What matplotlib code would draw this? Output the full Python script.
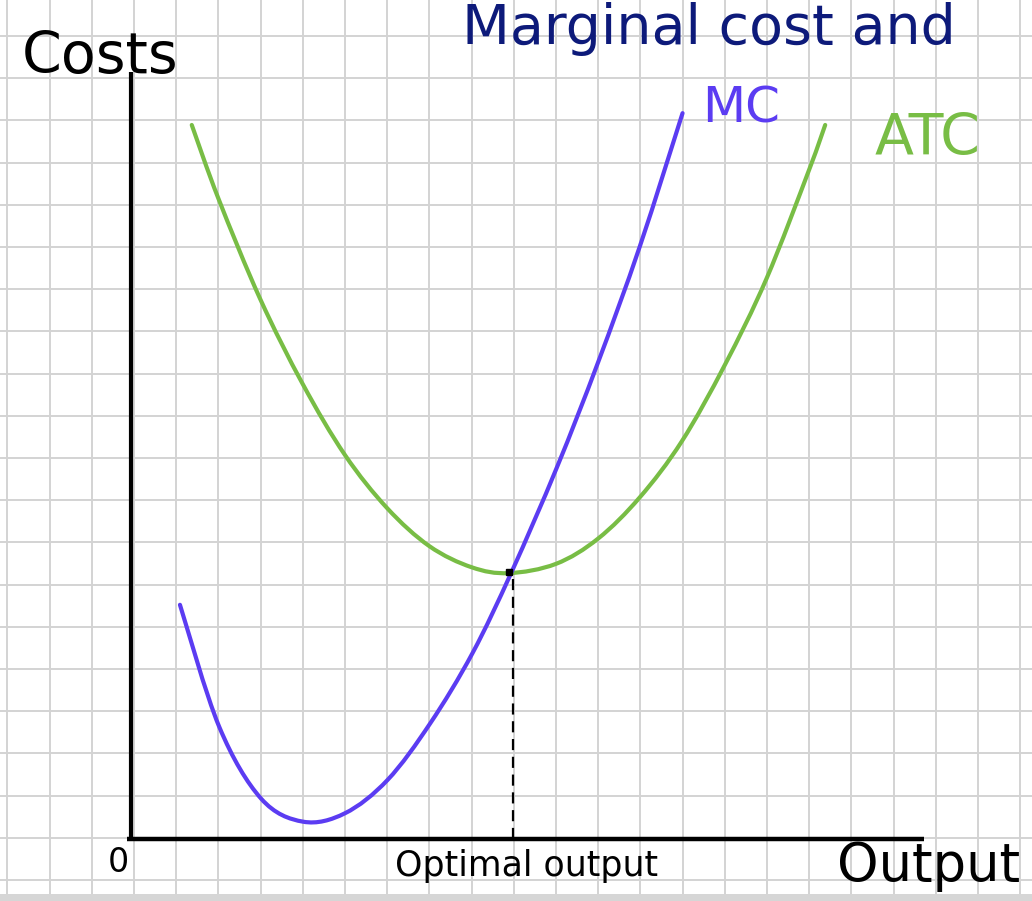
import numpy as np
import matplotlib
matplotlib.use("Agg")
import matplotlib.pyplot as plt
from matplotlib.path import Path
from matplotlib.patches import PathPatch

# one unit = one grid square, origin at the axes corner
atc_x = [1.44, 2.07, 3.06, 4.07, 5.07, 6.07, 7.07, 8.07, 8.95, 10.07, 11.07, 12.06, 13.05, 14.07, 15.06, 16.07, 16.45]
atc_y = [16.92, 15.18, 12.80, 10.78, 9.10, 7.84, 6.94, 6.44, 6.30, 6.52, 7.12, 8.10, 9.42, 11.23, 13.28, 15.86, 16.92]

mc_x = [1.16, 2.09, 3.08, 4.08, 5.07, 6.08, 7.09, 8.09, 9.02, 10.09, 11.07, 12.06, 13.07]
mc_y = [5.55, 2.66, 0.96, 0.41, 0.61, 1.40, 2.74, 4.40, 6.33, 8.80, 11.30, 14.05, 17.20]

opt_q = 9.05
opt_cost = 6.30

title = "Marginal cost and"
y_label = "Costs"
x_label = "Output"
opt_label = "Optimal output"

PURPLE = "#5b3cf2"
GREEN = "#78bd45"
NAVY = "#0d1a7a"
GRID = "#d3d3d3"


def smooth_path(xs, ys):
    """Catmull-Rom through the read points, drawn as cubic Bezier segments."""
    p = np.column_stack([xs, ys])
    ext = np.vstack([p[0], p, p[-1]])
    verts = [p[0]]
    codes = [Path.MOVETO]
    for i in range(1, len(ext) - 2):
        c1 = ext[i] + (ext[i + 1] - ext[i - 1]) / 6
        c2 = ext[i + 1] - (ext[i + 2] - ext[i]) / 6
        verts += [c1, c2, ext[i + 1]]
        codes += [Path.CURVE4] * 3
    return Path(verts, codes)


fig = plt.figure(figsize=(10.32, 9.01), dpi=100)
ax = fig.add_axes([0, 0, 1, 1])
u = 42.2
ax.set_xlim(-131 / u, 901 / u)
ax.set_ylim(-62 / u, 839 / u)
ax.axis("off")

# graph paper
for gx in np.arange(-3, 22) + 0.073:
    ax.axvline(gx, color=GRID, lw=1.4, zorder=0)
for gy in np.arange(-2, 20) + 0.03:
    ax.axhline(gy, color=GRID, lw=1.4, zorder=0)
ax.axhspan(-62 / u, -55 / u, color="#d6d6d6", zorder=1, lw=0)

# axes
ax.plot([0, 0], [0, 18.18], color="black", lw=3, solid_capstyle="butt", zorder=3)
ax.plot([-0.09, 18.79], [0, 0], color="black", lw=3.2, solid_capstyle="butt", zorder=3)

# curves
ax.add_patch(PathPatch(smooth_path(atc_x, atc_y), fill=False, edgecolor=GREEN,
                       lw=3, capstyle="round", zorder=4))
ax.add_patch(PathPatch(smooth_path(mc_x, mc_y), fill=False, edgecolor=PURPLE,
                       lw=3, capstyle="round", zorder=5))

ax.plot([opt_q, opt_q], [0, opt_cost], color="black", lw=1.6,
        linestyle=(0, (5, 3)), zorder=3)
ax.plot([opt_q - 0.1], [opt_cost + 0.02], marker="s", ms=4, color="black", zorder=6)

# text
ax.text(7.84, 18.83, title, color=NAVY, fontsize=40, va="baseline", ha="left")
ax.text(-2.58, 18.15, y_label, color="black", fontsize=41, va="baseline", ha="left")
ax.text(13.53, 16.97, "MC", color=PURPLE, fontsize=36, va="baseline", ha="left")
ax.text(17.61, 16.21, "ATC", color=GREEN, fontsize=41, va="baseline", ha="left")
ax.text(-0.31, -0.55, "0", color="black", fontsize=24, va="center", ha="center")
ax.text(9.38, -0.64, opt_label, color="black", fontsize=25, va="center", ha="center")
ax.text(18.89, -0.64, x_label, color="black", fontsize=38, va="center", ha="center")

fig.savefig("out.png", dpi=100)
